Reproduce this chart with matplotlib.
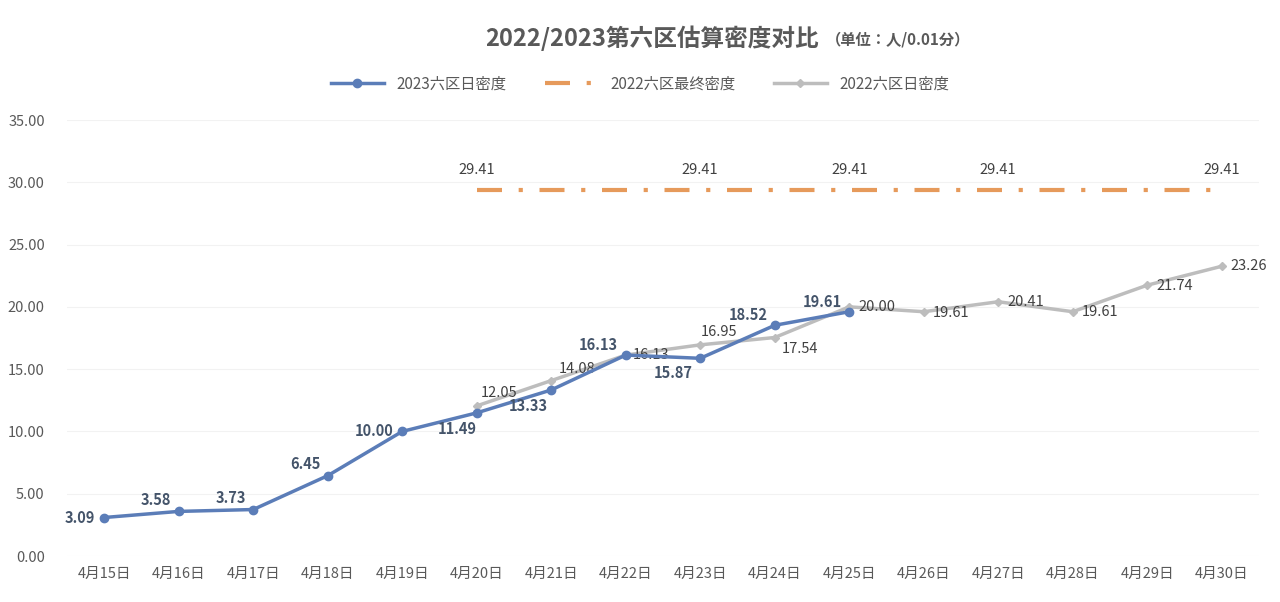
import matplotlib.pyplot as plt

plt.rcParams['font.family'] = ['Noto Sans CJK SC', 'Noto Sans CJK JP', 'DejaVu Sans']

dates = ['4月15日', '4月16日', '4月17日', '4月18日', '4月19日', '4月20日', '4月21日', '4月22日',
         '4月23日', '4月24日', '4月25日', '4月26日', '4月27日', '4月28日', '4月29日', '4月30日']
d2023 = [3.09, 3.58, 3.73, 6.45, 10.00, 11.49, 13.33, 16.13, 15.87, 18.52, 19.61]
d2022 = [12.05, 14.08, 16.13, 16.95, 17.54, 20.00, 19.61, 20.41, 19.61, 21.74, 23.26]
final2022 = [29.41] * 11
final_label_idx = [0, 3, 5, 7, 10]

# label offsets (x in categories, y in data units)
off23 = [(-0.12, 0), (-0.1, 0.9), (-0.1, 0.9), (-0.1, 0.9), (-0.12, 0), (0, -1.3),
         (-0.05, -1.3), (-0.1, 0.8), (-0.1, -1.2), (-0.1, 0.8), (-0.1, 0.8)]
ha23 = ['right', 'right', 'right', 'right', 'right', 'right', 'right', 'right', 'right', 'right', 'right']
off22 = [(0.05, 1.0), (0.1, 0.9), (0.1, 0), (0.0, 1.0), (0.1, -0.9), (0.12, 0),
         (0.12, -0.1), (0.12, 0), (0.12, 0), (0.12, -0.1), (0.12, 0)]

fig = plt.figure(figsize=(12.8, 6.02), dpi=100)
ax = fig.add_axes([67 / 1280, 1 - 556 / 602, 1192 / 1280, 436 / 602])

x23 = list(range(len(d2023)))
x22 = list(range(5, 5 + len(d2022)))

ax.plot(x22, final2022, color='#E69A5B', lw=3, dashes=(6, 4, 1, 4), label='2022六区最终密度')
ax.plot(x23, d2023, color='#5B7DB8', lw=2.5, marker='o', ms=6, label='2023六区日密度', zorder=4)
ax.plot(x22, d2022, color='#BDBDBD', lw=2.5, marker='D', ms=4, label='2022六区日密度', zorder=3)

for x, v, (dx, dy), ha in zip(x23, d2023, off23, ha23):
    ax.text(x + dx, v + dy, f'{v:.2f}', ha=ha, va='center', fontsize=10.5,
            fontweight='bold', color='#44546A', zorder=5)
for x, v, (dx, dy) in zip(x22, d2022, off22):
    ax.text(x + dx, v + dy, f'{v:.2f}', ha='left', va='center',
            fontsize=10.5, color='#404040')
for i in final_label_idx:
    ax.text(x22[i], final2022[i] + 1.6, f'{final2022[i]:.2f}', ha='center', va='center',
            fontsize=10.5, color='#404040')

ax.set_xlim(-0.5, len(dates) - 0.5)
ax.set_ylim(0, 35)
ax.set_xticks(range(len(dates)))
ax.set_xticklabels(dates, fontsize=10.5, color='#595959')
ax.set_yticks(range(0, 36, 5))
ax.set_yticklabels([f'{v:.2f}' for v in range(0, 36, 5)], fontsize=10.5, color='#595959')
ax.yaxis.set_tick_params(pad=16, length=0)
ax.xaxis.set_tick_params(length=0, pad=8)
ax.grid(axis='y', color='#F2F2F2', lw=0.8)
for s in ax.spines.values():
    s.set_visible(False)

h, l = ax.get_legend_handles_labels()
order = [1, 0, 2]
fig.legend([h[i] for i in order], [l[i] for i in order], loc='center', bbox_to_anchor=(0.5, 0.86),
           ncol=3, frameon=False, fontsize=11, labelcolor='#595959', handlelength=3.5, columnspacing=2.5)

fig.text(0.64, 0.937, '2022/2023第六区估算密度对比', ha='right', va='center', fontsize=17,
         fontweight='bold', color='#595959')
fig.text(0.645, 0.935, '（单位：人/0.01分）', ha='left', va='center', fontsize=11,
         fontweight='bold', color='#595959')

fig.savefig('out.png', dpi=100)
